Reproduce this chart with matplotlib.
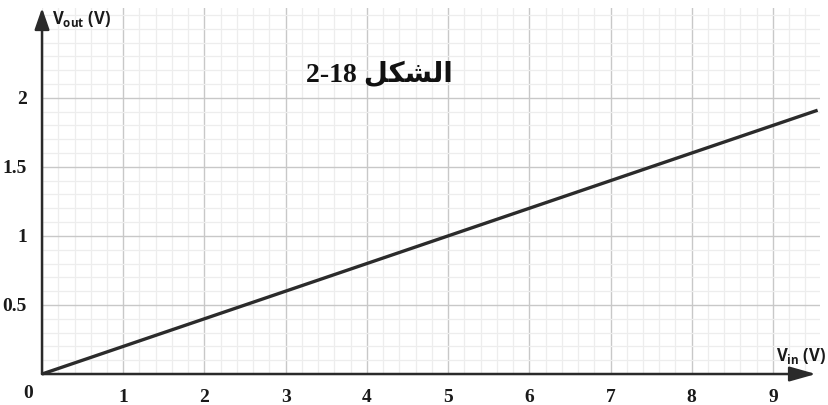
import numpy as np
import matplotlib.pyplot as plt
from matplotlib.ticker import MultipleLocator

# Transfer characteristic: Vout = 0.2 * Vin
v_in = [0, 9.55]
v_out = [0, 1.91]

x_ticks = [1, 2, 3, 4, 5, 6, 7, 8, 9]
y_ticks = [0.5, 1, 1.5, 2]
y_tick_labels = ['0.5', '1', '1.5', '2']

# Arabic title, pre-shaped (presentation forms, visual order) since matplotlib does no shaping
title = '2-18 ' + '\uFEDE\uFEDC\uFEB8\uFEDF\uFE8D'

fig = plt.figure(figsize=(8.29, 4.05), dpi=100)
ax = fig.add_axes([0.0507, 0.0765, 0.9385, 0.9037])
ax.set_xlim(0, 9.58)
ax.set_ylim(0, 2.65)

ax.xaxis.set_major_locator(MultipleLocator(1))
ax.xaxis.set_minor_locator(MultipleLocator(0.2))
ax.yaxis.set_major_locator(MultipleLocator(0.5))
ax.yaxis.set_minor_locator(MultipleLocator(0.1))
ax.grid(which='major', color='#c8c8c8', lw=1.0)
ax.grid(which='minor', color='#ededed', lw=0.9)
ax.set_axisbelow(True)

for s in ax.spines.values():
    s.set_visible(False)
ax.tick_params(which='both', length=0)
ax.set_xticks(x_ticks)
ax.set_yticks(y_ticks)
ax.set_xticklabels([str(t) for t in x_ticks])
ax.set_yticklabels(y_tick_labels)
ax.tick_params(axis='x', pad=11)
ax.tick_params(axis='y', pad=11)
for lab in ax.get_xticklabels() + ax.get_yticklabels():
    lab.set_fontfamily('Liberation Serif')
    lab.set_fontweight('bold')
    lab.set_fontsize(14)
    lab.set_color('#1a1a1a')
ax.text(-0.17, -0.14, '0', fontsize=14, fontweight='bold', family='Liberation Serif',
        ha='center', va='center', color='#1a1a1a', clip_on=False)

# axes with arrow heads
ax.annotate('', xy=(0, 2.65), xytext=(0, 0), annotation_clip=False,
            arrowprops=dict(arrowstyle='-|>,head_length=1.3,head_width=0.45',
                            color='#2a2a2a', lw=1.8, shrinkA=0, shrinkB=0))
ax.annotate('', xy=(9.53, 0), xytext=(0, 0), annotation_clip=False,
            arrowprops=dict(arrowstyle='-|>,head_length=1.6,head_width=0.45',
                            color='#2a2a2a', lw=1.8, shrinkA=0, shrinkB=0))

ax.plot(v_in, v_out, color='#2b2b2b', lw=2.4, solid_capstyle='butt', clip_on=False)

ax.text(0.12, 2.57, r'V$_{\mathregular{out}}$ (V)', fontsize=12, fontweight='bold',
        family='Open Sans', ha='left', va='center', color='#1a1a1a')
ax.text(9.66, 0.13, r'V$_{\mathregular{in}}$ (V)', fontsize=12, fontweight='bold',
        family='Open Sans', ha='right', va='center', color='#1a1a1a', clip_on=False)

ax.text(4.16, 2.17, title, fontsize=20, fontweight='bold',
        family=['Liberation Serif', 'DejaVu Sans'], ha='center', va='center', color='#111111')

fig.savefig('out.png', dpi=100)
